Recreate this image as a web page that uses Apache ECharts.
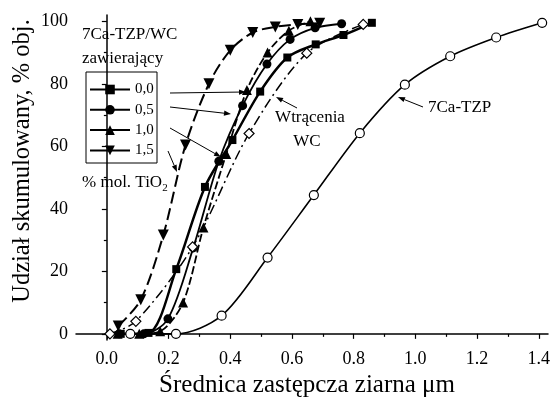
<!DOCTYPE html>
<html>
<head>
<meta charset="utf-8">
<script src="https://cdn.jsdelivr.net/npm/echarts@6.0.0/dist/echarts.min.js"></script>
<style>
  html, body { margin: 0; padding: 0; background: #fff; }
  #chart { width: 553px; height: 403px; }
</style>
</head>
<body>
<div id="chart"></div>
<script>
// grain size (µm) and cumulative share (% vol.)
const sizeTZP = [0.076, 0.224, 0.372, 0.521, 0.671, 0.82, 0.966, 1.113, 1.262, 1.411];
const cumTZP = [0, 0, 5.8, 24.4, 44.4, 64.2, 79.7, 88.8, 94.8, 99.5];

const sizeWC = [0.01, 0.094, 0.278, 0.461, 0.648, 0.831];
const cumWC = [0, 4.0, 27.8, 64.1, 89.8, 99.0];

const sizeTi00 = [0.045, 0.135, 0.225, 0.318, 0.407, 0.497, 0.585, 0.677, 0.767, 0.859];
const cumTi00 = [0, 0.3, 20.7, 47.0, 62.0, 77.5, 88.4, 92.6, 95.6, 99.5];

const sizeTi05 = [0.04, 0.12, 0.198, 0.28, 0.363, 0.44, 0.519, 0.594, 0.675, 0.761];
const cumTi05 = [0, 0, 4.8, 27.5, 55.2, 73.0, 86.3, 94.2, 97.9, 99.2];

const sizeTi10 = [0.035, 0.105, 0.173, 0.247, 0.313, 0.387, 0.454, 0.521, 0.59, 0.66];
const cumTi10 = [0, 0, 0.8, 10, 34, 57.5, 78, 90, 97, 100];

const sizeTi15 = [0.037, 0.11, 0.183, 0.255, 0.331, 0.40, 0.473, 0.546, 0.619, 0.69];
const cumTi15 = [2.5, 10.9, 31.6, 60.4, 80, 90.7, 96.4, 98.2, 99.0, 99.4];

const xTicks = [0, 0.2, 0.4, 0.6, 0.8, 1.0, 1.2, 1.4];
const xMinor = [0.1, 0.3, 0.5, 0.7, 0.9, 1.1, 1.3];
const yTicks = [0, 20, 40, 60, 80, 100];
const yMinor = [10, 30, 50, 70, 90];

const FONT = "'Liberation Serif', 'DejaVu Serif', serif";

const pairs = (xs, ys) => xs.map((x, i) => [x, ys[i]]);

const chart = echarts.init(document.getElementById("chart"));

function arrow(x1, y1, x2, y2) {
  const a = Math.atan2(y2 - y1, x2 - x1);
  const len = 7, half = 2.6;
  const bx = x2 - len * Math.cos(a), by = y2 - len * Math.sin(a);
  return [
    {
      type: "line",
      shape: { x1: x1, y1: y1, x2: bx, y2: by },
      style: { stroke: "#000", lineWidth: 1 },
    },
    {
      type: "polygon",
      shape: {
        points: [
          [x2, y2],
          [bx + half * Math.sin(a), by - half * Math.cos(a)],
          [bx - half * Math.sin(a), by + half * Math.cos(a)],
        ],
      },
      style: { fill: "#000" },
    },
  ];
}

function label(text, x, y, align) {
  return {
    type: "text",
    x: x,
    y: y,
    style: {
      text: text,
      fill: "#000",
      font: "17px " + FONT,
      align: align || "left",
      verticalAlign: "middle",
    },
  };
}

const axisLine = { show: true, lineStyle: { color: "#000", width: 1.5 } };
const SMOOTH = 0.3;

const option = {
  animation: false,
  backgroundColor: "#fff",
  grid: { left: 76, right: 4, top: 15, bottom: 61 },
  legend: {
    data: ["0,0", "0,5", "1,0", "1,5"],
    orient: "vertical",
    left: 89,
    top: 82,
    padding: 0,
    itemWidth: 40,
    itemHeight: 12,
    itemGap: 5.3,
    lineStyle: { type: "solid" },
    textStyle: { fontFamily: FONT, fontSize: 15, color: "#000" },
  },
  xAxis: [
    {
      type: "value",
      min: -0.1,
      max: 1.43,
      position: "bottom",
      axisLine: axisLine,
      axisTick: { show: true, inside: false, length: 5, customValues: xTicks, lineStyle: { color: "#000", width: 1.2 } },
      axisLabel: {
        customValues: xTicks,
        formatter: (v) => v.toFixed(1),
        fontFamily: FONT,
        fontSize: 18,
        color: "#000",
        margin: 10,
      },
      splitLine: { show: false },
      name: "Średnica zastępcza ziarna μm",
      nameLocation: "middle",
      nameGap: 30,
      nameTextStyle: { fontFamily: FONT, fontSize: 25, color: "#000", padding: [0, 10, 0, 0] },
    },
    {
      type: "value",
      min: -0.1,
      max: 1.43,
      position: "bottom",
      axisLine: { show: false },
      axisTick: { show: true, length: 3, customValues: xMinor, lineStyle: { color: "#000", width: 1.2 } },
      axisLabel: { show: false },
      splitLine: { show: false },
    },
  ],
  yAxis: [
    {
      type: "value",
      min: -2,
      max: 102,
      position: "left",
      axisLine: axisLine,
      axisTick: { show: true, length: 5, customValues: yTicks, lineStyle: { color: "#000", width: 1.2 } },
      axisLabel: {
        customValues: yTicks,
        fontFamily: FONT,
        fontSize: 18,
        color: "#000",
        margin: 8,
      },
      splitLine: { show: false },
    },
    {
      type: "value",
      min: -2,
      max: 102,
      position: "left",
      axisLine: { show: false },
      axisTick: { show: true, length: 3, customValues: yMinor, lineStyle: { color: "#000", width: 1.2 } },
      axisLabel: { show: false },
      splitLine: { show: false },
    },
  ],
  series: [
    {
      name: "7Ca-TZP",
      type: "line",
      data: pairs(sizeTZP, cumTZP),
      smooth: SMOOTH,
      symbol: "circle",
      symbolSize: 9,
      lineStyle: { color: "#000", width: 1.6 },
      itemStyle: { color: "#fff", borderColor: "#000", borderWidth: 1.2 },
      z: 3,
    },
    {
      name: "Wtrącenia WC",
      type: "line",
      data: pairs(sizeWC, cumWC),
      smooth: SMOOTH,
      symbol: "diamond",
      symbolSize: 10,
      lineStyle: { color: "#000", width: 1.5, type: [10, 4, 2, 4] },
      itemStyle: { color: "#fff", borderColor: "#000", borderWidth: 1.2 },
      z: 4,
    },
    {
      name: "0,0",
      type: "line",
      data: pairs(sizeTi00, cumTi00),
      smooth: SMOOTH,
      symbol: "rect",
      symbolSize: 8,
      lineStyle: { color: "#000", width: 2.5 },
      itemStyle: { color: "#000" },
    },
    {
      name: "0,5",
      type: "line",
      data: pairs(sizeTi05, cumTi05),
      smooth: SMOOTH,
      symbol: "circle",
      symbolSize: 9,
      lineStyle: { color: "#000", width: 1.8 },
      itemStyle: { color: "#000" },
    },
    {
      name: "1,0",
      type: "line",
      data: pairs(sizeTi10, cumTi10),
      smooth: SMOOTH,
      symbol: "triangle",
      symbolSize: 10,
      lineStyle: { color: "#000", width: 1.8, type: [8, 3] },
      itemStyle: { color: "#000" },
    },
    {
      name: "1,5",
      type: "line",
      data: pairs(sizeTi15, cumTi15),
      smooth: SMOOTH,
      symbol: "triangle",
      symbolRotate: 180,
      symbolSize: 11,
      lineStyle: { color: "#000", width: 2, type: [12, 5] },
      itemStyle: { color: "#000" },
    },
  ],
  graphic: [
    {
      type: "text",
      x: 23,
      y: 161,
      rotation: Math.PI / 2,
      style: {
        text: "Udział skumulowany, % obj.",
        fill: "#000",
        font: "24.5px " + FONT,
        align: "center",
        verticalAlign: "middle",
      },
    },
    label("7Ca-TZP/WC", 82, 35),
    label("zawierający", 82, 59),
    {
      type: "rect",
      shape: { x: 86, y: 72, width: 71, height: 91 },
      style: { fill: "none", stroke: "#000", lineWidth: 1 },
    },
    {
      type: "text",
      x: 82,
      y: 183,
      style: {
        text: "{a|% mol. TiO}{s|2}",
        verticalAlign: "middle",
        rich: {
          a: { fontFamily: FONT, fontSize: 17, fill: "#000" },
          s: { fontFamily: FONT, fontSize: 11, fill: "#000", padding: [10, 0, 0, 0] },
        },
      },
    },
    label("Wtrącenia", 310, 118, "center"),
    label("WC", 307, 142, "center"),
    label("7Ca-TZP", 428, 108),
    ...arrow(170, 93, 246, 92),
    ...arrow(170, 107, 231, 114),
    ...arrow(170, 128, 221, 157),
    ...arrow(168, 151, 177, 172),
    ...arrow(297, 108, 276, 97),
    ...arrow(423, 107, 398, 97),
  ],
};

chart.setOption(option);
</script>
</body>
</html>
